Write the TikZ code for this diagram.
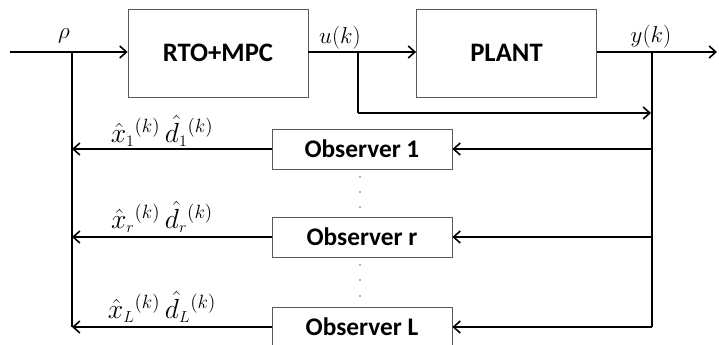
\RequirePackage{fix-cm}
\documentclass[tikz,border=0pt]{standalone}
\usepackage{fontspec}
\setmainfont{Carlito}
\usetikzlibrary{arrows.meta,positioning}

\begin{document}
\begin{tikzpicture}[x=0.75pt,y=-0.75pt,
    block/.style={draw=black!65, line width=0.6pt, fill=white, font=\bfseries\fontsize{20}{24}\selectfont,
                  minimum width=135pt, minimum height=66pt, inner sep=0pt},
    obsbox/.style={block, font=\bfseries\fontsize{19}{22}\selectfont, minimum height=30pt},
    wire/.style={line width=1.4pt},
    flow/.style={wire, -{Straight Barb[length=5pt,width=9pt,line width=1.2pt]}},
    sig/.style={font=\LARGE, inner sep=0pt},
    est/.style={font=\huge, inner sep=0pt}]

    \useasboundingbox (0,0) rectangle (719,345);

    % main loop
    \node[block] (rto)   at (218,53)   {RTO+MPC};
    \node[block] (plant) at (506.5,53) {PLANT};

    \coordinate (in)   at (10,52);
    \coordinate (jrho) at (72,52);
    \coordinate (ju)   at (358,52);
    \coordinate (jy)   at (652,52);
    \coordinate (out)  at (717,52);

    \draw[wire] (in) -- (jrho);
    \draw[flow] (jrho) -- (rto.west |- jrho);
    \draw[wire] (rto.east |- ju) -- (ju);
    \draw[flow] (ju) -- (plant.west |- ju);
    \draw[wire] (plant.east |- jy) -- (jy);
    \draw[flow] (jy) -- (out);

    \node[sig] (rho) at (64,36) {$\rho$};
    \node[sig] (uk)  at (340,38) {$u(k)$};
    \node[sig] (yk)  at (651,37) {$y(k)$};

    % u(k) tap to the observers
    \coordinate (ud) at (358,113);
    \coordinate (tap) at (651,113);
    \draw[wire] (ju) -- (ud);
    \draw[flow] (ud) -- (tap);

    % observer bank
    \node[obsbox] (obs1) at (362,149) {Observer 1};
    \node[obsbox] (obsr) at (362,237) {Observer r};
    \node[obsbox] (obsL) at (362,327) {Observer L};

    \coordinate (ybot) at (652,327);
    \coordinate (rbot) at (72,327);
    \draw[wire] (jy) -- (ybot);
    \draw[wire] (jrho) -- (rbot);

    \foreach \o in {obs1,obsr,obsL}{
        \draw[flow] (jy |- \o.east) -- (\o.east);
        \draw[flow] (\o.west) -- (jrho |- \o.west);
    }

    \node[est] (est1) at (162,131) {$\hat{x}_{\scriptscriptstyle 1}{}^{(k)}\,\hat{d}_{\scriptscriptstyle 1}{}^{(k)}$};
    \node[est] (estr) at (162,217) {$\hat{x}_{\scriptscriptstyle r}{}^{(k)}\,\hat{d}_{\scriptscriptstyle r}{}^{(k)}$};
    \node[est] (estL) at (162,307) {$\hat{x}_{\scriptscriptstyle L}{}^{(k)}\,\hat{d}_{\scriptscriptstyle L}{}^{(k)}$};

    % dots between the observers
    \foreach \yy in {177,192,207,265,280,296}
        \fill[black!60] (360,\yy) circle (0.6pt);

\end{tikzpicture}
\end{document}
